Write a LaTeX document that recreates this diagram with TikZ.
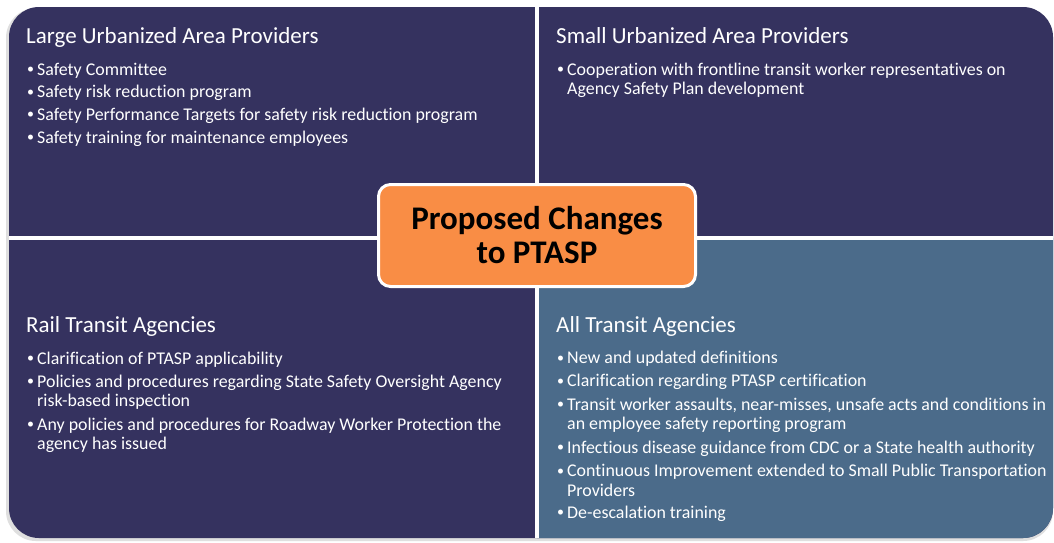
\documentclass[tikz,border=0pt]{standalone}
\usepackage{fontspec}
\setmainfont[Ligatures=NoCommon]{Carlito}
\definecolor{quadnavy}{HTML}{35325F}
\definecolor{quadsteel}{HTML}{4B6B8A}
\definecolor{huborange}{HTML}{F98D45}
\newcommand{\wrapitem}[2]{\begin{tabular}[t]{@{}l@{}}#1\\#2\end{tabular}}
\begin{document}
\begin{tikzpicture}[x=1pt,y=-1pt,
  head/.style={anchor=base west,inner sep=0pt,text=white,font=\fontsize{23}{27}\selectfont},
  item/.style={anchor=base west,inner sep=0pt,text=white,font=\fontsize{17.9}{19.8}\selectfont},
  dot/.style={anchor=base west,inner sep=0pt,text=white,font=\fontsize{14}{16}\selectfont}]
\useasboundingbox[fill=white] (0,0) rectangle (1054,542);
% four quadrants
\fill[gray!25,rounded corners=30] (6,8) rectangle (1053,541);
\fill[quadnavy,rounded corners=30] (9,7) rectangle (1053,538);
\begin{scope}
  \clip[rounded corners=30] (9,7) rectangle (1053,538);
  \fill[quadsteel] (537,238) rectangle (1054,542);
\end{scope}
\fill[white] (535,7) rectangle (539,538);
\fill[white] (9,236) rectangle (1053,240);
% headings
\node[head] (tlhead) at (26,43) {Large Urbanized Area Providers};
\node[head] (trhead) at (556,43) {Small Urbanized Area Providers};
\node[head] (blhead) at (26,332) {Rail Transit Agencies};
\node[head] (brhead) at (556,332) {All Transit Agencies};
% bullet items
\foreach \y/\t [count=\i] in {75/{Safety Committee},
    97.7/{Safety risk reduction program},
    120.4/{Safety Performance Targets for safety risk reduction program},
    143/{Safety training for maintenance employees}}{
  \node[dot] (tlb\i) at (27,\y-1.5) {\textbullet};
  \node[item] (tl\i) at (37,\y) {\t};
}
\foreach \y/\t [count=\i] in {75/{\wrapitem{Cooperation with frontline transit worker representatives on}{Agency Safety Plan development}}}{
  \node[dot] (trb\i) at (557,\y-1.5) {\textbullet};
  \node[item] (tr\i) at (567,\y) {\t};
}
\foreach \y/\t [count=\i] in {364/{Clarification of PTASP applicability},
    387/{\wrapitem{Policies and procedures regarding State Safety Oversight Agency}{risk-based inspection}},
    430/{\wrapitem{Any policies and procedures for Roadway Worker Protection the}{agency has issued}}}{
  \node[dot] (blb\i) at (27,\y-1.5) {\textbullet};
  \node[item] (bl\i) at (37,\y) {\t};
}
\foreach \y/\t [count=\i] in {363.5/{New and updated definitions},
    386.7/{Clarification regarding PTASP certification},
    410/{\wrapitem{Transit worker assaults, near-misses, unsafe acts and conditions in}{an employee safety reporting program}},
    453.3/{Infectious disease guidance from CDC or a State health authority},
    476.7/{\wrapitem{Continuous Improvement extended to Small Public Transportation}{Providers}},
    518.3/{De-escalation training}}{
  \node[dot] (brb\i) at (557,\y-1.5) {\textbullet};
  \node[item] (br\i) at (567,\y) {\t};
}
% centre box
\node[draw=white,line width=3pt,fill=huborange,rounded corners=12pt,
  minimum width=317pt,minimum height=102pt,align=center,
  font=\fontsize{33}{34}\selectfont\bfseries] (hub) at (537,235.5) {Proposed Changes\\to PTASP};
\end{tikzpicture}
\end{document}
